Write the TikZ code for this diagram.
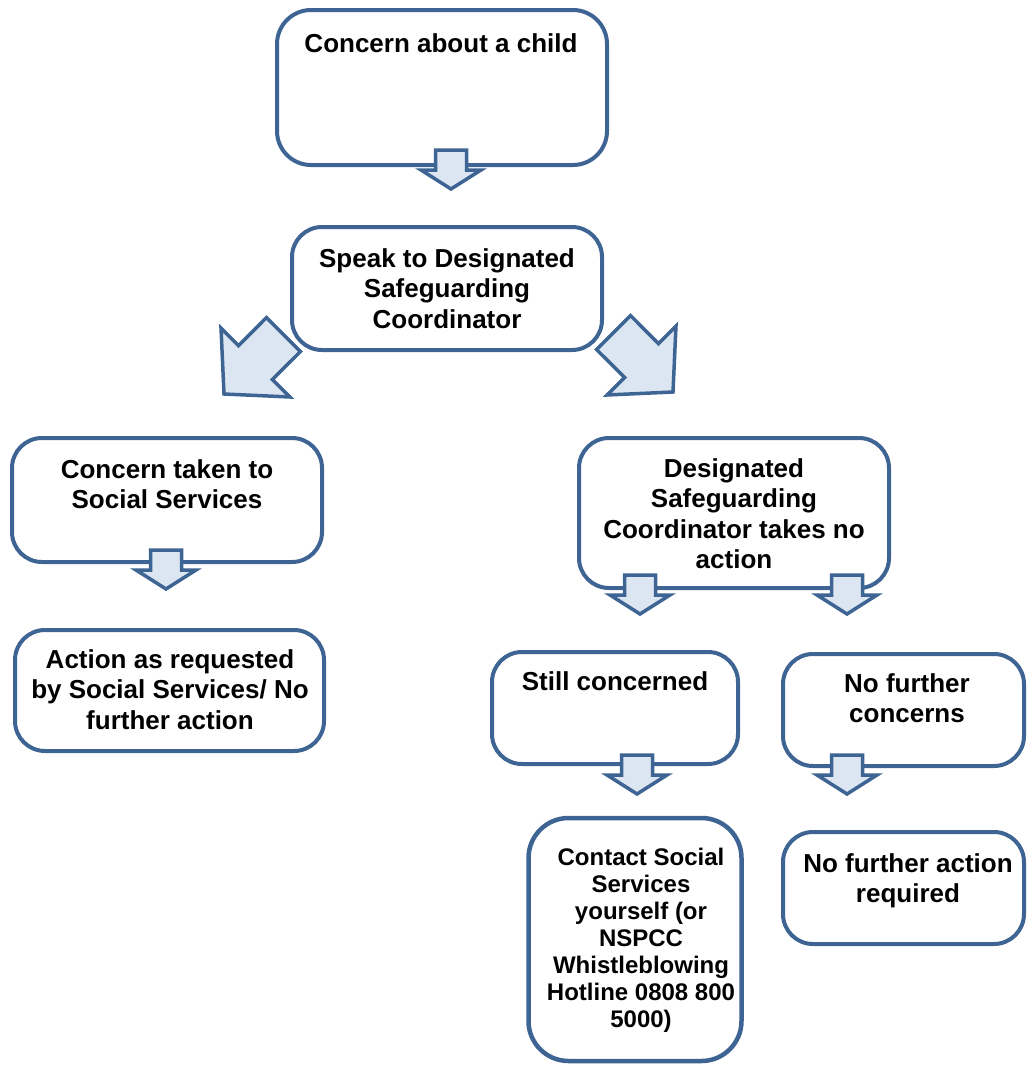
\documentclass[tikz,border=0pt]{standalone}
\usepackage{fontspec}
\setmainfont{Liberation Sans}
\usetikzlibrary{calc}
\definecolor{edge}{RGB}{62,100,148}
\definecolor{afill}{RGB}{220,230,242}
\tikzset{
  box/.style={draw=edge, line width=4pt, rounded corners=30pt, fill=white, inner sep=0pt},
  txt/.style={anchor=north, inner sep=0pt, align=center, font=\fontsize{26}{30.5}\selectfont\bfseries},
  smalltxt/.style={anchor=north, inner sep=0pt, align=center, font=\fontsize{24}{27}\selectfont\bfseries},
  barrow/.style={draw=edge, line width=3.5pt, fill=afill, line join=miter}
}
% small block arrow: #1 = centre of shaft top
\newcommand\smallblockarrow[1]{%
  \draw[barrow] #1 ++(-15.5,0) -- ++(31,0) -- ++(0,20) -- ++(14.5,0) -- ++(-30,19) -- ++(-30,-19) -- ++(14.5,0) -- cycle;}
\begin{document}
\begin{tikzpicture}[x=1pt,y=-1pt]
\useasboundingbox (0,0) rectangle (1028,1066);

% boxes
\node[box, minimum width=330pt, minimum height=155pt, rounded corners=34pt] (b1) at (442,87.5) {};
\node[box, minimum width=310pt, minimum height=123pt] (b2) at (447,288.5) {};
\node[box, minimum width=310pt, minimum height=124pt] (b3) at (167,500) {};
\node[box, minimum width=309pt, minimum height=121pt] (b4) at (169.5,690.5) {};
\node[box, minimum width=310pt, minimum height=150pt] (b5) at (734,513) {};
\node[box, minimum width=246pt, minimum height=112pt] (b6) at (615,708) {};
\node[box, minimum width=241pt, minimum height=112pt] (b7) at (903.5,710) {};
\node[box, minimum width=213pt, minimum height=243pt, line width=4.5pt, rounded corners=40pt] (b8) at (635,939.5) {};
\node[box, minimum width=241pt, minimum height=112pt] (b9) at (903.5,888) {};

% texts
\node[txt] (t1) at (441,33) {Concern about a child};
\node[txt] (t2) at (447,248) {Speak to Designated\\Safeguarding\\Coordinator};
\node[txt] (t3) at (167,459) {Concern taken to\\Social Services};
\node[txt] (t4) at (170,649) {Action as requested\\by Social Services/ No\\further action};
\node[txt] (t5) at (734,458) {Designated\\Safeguarding\\Coordinator takes no\\action};
\node[txt] (t6) at (615,671) {Still concerned};
\node[txt] (t7) at (907,673) {No further\\concerns};
\node[smalltxt] (t8) at (641,848) {Contact Social\\Services\\yourself (or\\NSPCC\\Whistleblowing\\Hotline 0808 800\\5000)};
\node[txt] (t9) at (908,853) {No further action\\required};

% small block arrows
\smallblockarrow{($(b1.south)+(9,-17)$)}
\smallblockarrow{($(b3.south)+(-1,-14)$)}
\smallblockarrow{($(b5.south)+(-94,-15)$)}
\smallblockarrow{($(b5.south)+(113,-15)$)}
\smallblockarrow{($(b6.south)+(22,-11)$)}
\smallblockarrow{($(b7.south)+(-56.5,-13)$)}

% big diagonal block arrows
\draw[barrow] ($(b2.south west)+(-66,42)$) -- ++(-3,-66) -- ++(17.5,17.6) -- ++(27.9,-28) -- ++(34,34) -- ++(-28,27.9) -- ++(17.6,17.5) -- cycle;
\draw[barrow] ($(b2.south east)+(69,40)$) -- ++(3,-66) -- ++(-17.5,17.6) -- ++(-27.9,-28) -- ++(-34,34) -- ++(28,27.9) -- ++(-17.6,17.5) -- cycle;
\end{tikzpicture}
\end{document}
